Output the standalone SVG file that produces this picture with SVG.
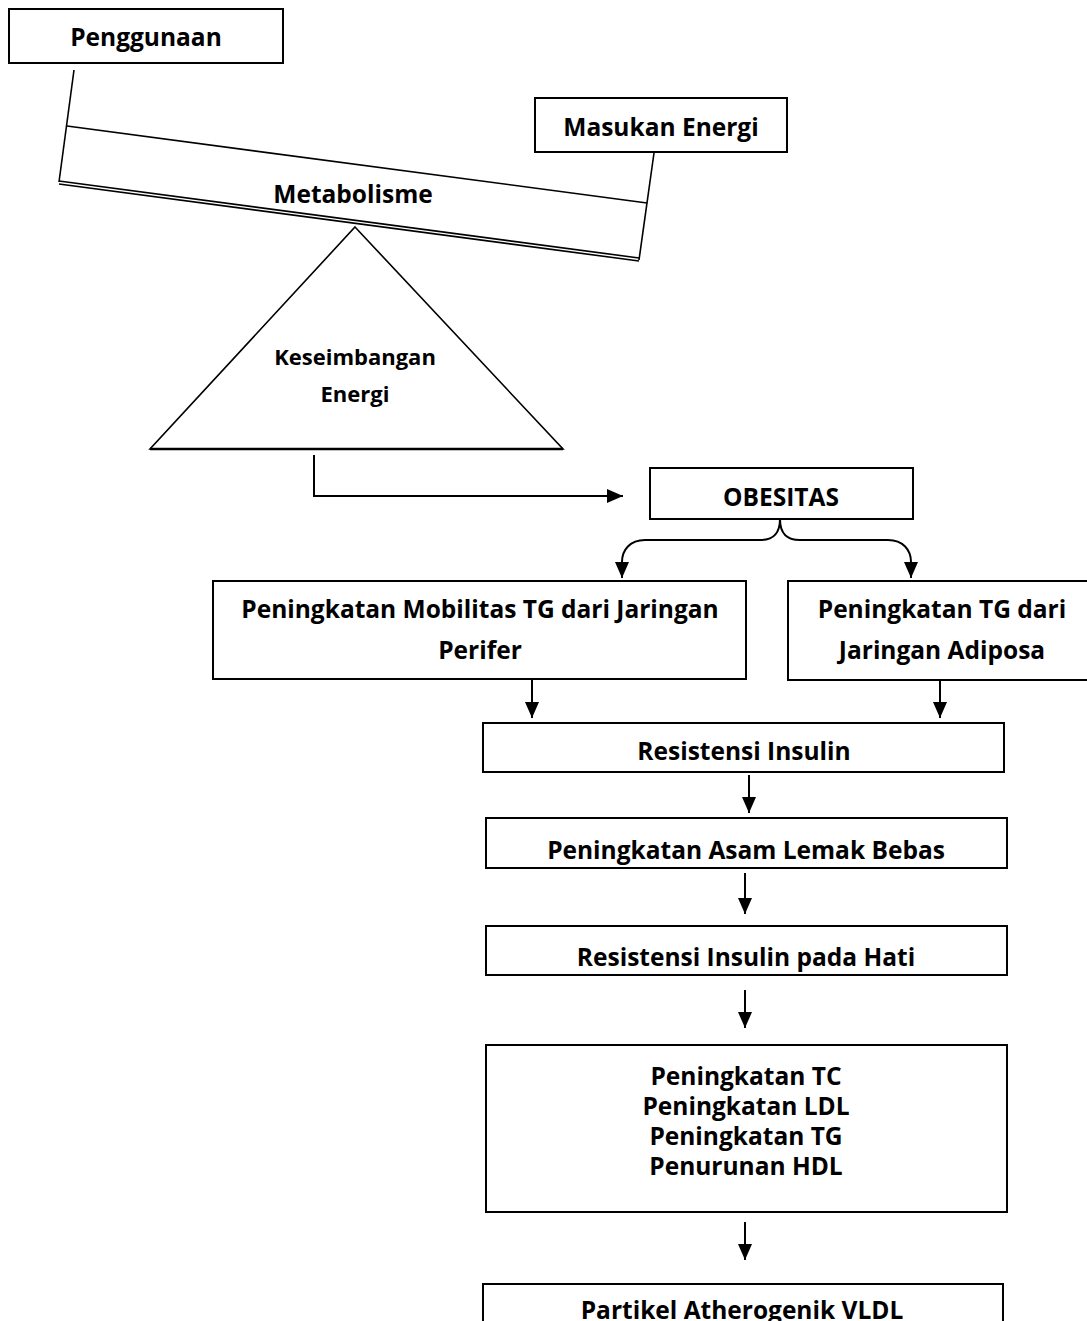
<svg xmlns="http://www.w3.org/2000/svg" width="1087" height="1321" viewBox="0 0 1087 1321">
<defs>
<style>
.box{fill:#fff;stroke:#000;stroke-width:2}
.ln{fill:none;stroke:#000;stroke-width:1.6}
.con{fill:none;stroke:#000;stroke-width:2}
.t{font-family:"Open Sans","Liberation Sans",sans-serif;font-weight:bold;font-size:24.5px;fill:#000;text-anchor:middle}
.ts{font-size:22px}
</style>
<marker id="ah" markerUnits="userSpaceOnUse" markerWidth="16" markerHeight="14" refX="16" refY="7" orient="auto">
<path d="M0,0 L16,7 L0,14 z" fill="#000"/>
</marker>
<clipPath id="c1"><rect x="486" y="818" width="521" height="50"/></clipPath>
<clipPath id="c2"><rect x="486" y="926" width="521" height="49"/></clipPath>
</defs>

<g id="lever">
<polygon points="67,126 647,203 639,260 59,182" fill="#fff" stroke="none"/>
<line class="ln" x1="74" y1="70" x2="59" y2="182"/>
<line class="ln" x1="654" y1="153" x2="639" y2="260"/>
<line class="ln" x1="67" y1="126" x2="647" y2="203"/>
<line class="ln" x1="59" y1="181" x2="639" y2="258"/>
<line class="ln" x1="59" y1="184" x2="639" y2="261"/>
<text class="t" x="353" y="203">Metabolisme</text>
</g>

<g id="penggunaan">
<rect class="box" x="9" y="9" width="274" height="54"/>
<text class="t" x="146" y="46">Penggunaan</text>
</g>

<g id="masukan">
<rect class="box" x="535" y="98" width="252" height="54"/>
<text class="t" x="661" y="136">Masukan Energi</text>
</g>

<g id="keseimbangan">
<polygon points="355,227 563,449 150,449" fill="#fff" stroke="#000" stroke-width="1.6"/>
<line x1="150" y1="449" x2="563" y2="449" stroke="#000" stroke-width="2.4"/>
<text class="t ts" x="355" y="365">Keseimbangan</text>
<text class="t ts" x="355" y="402">Energi</text>
</g>

<g id="obesitas">
<rect class="box" x="650" y="468" width="263" height="51"/>
<text class="t" x="781" y="506">OBESITAS</text>
</g>

<g id="mobilitas">
<rect class="box" x="213" y="581" width="533" height="98"/>
<text class="t" x="480" y="618">Peningkatan Mobilitas TG dari Jaringan</text>
<text class="t" x="480" y="659">Perifer</text>
</g>

<g id="adiposa">
<rect class="box" x="788" y="581" width="310" height="99"/>
<text class="t" x="942" y="618">Peningkatan TG dari</text>
<text class="t" x="942" y="659">Jaringan Adiposa</text>
</g>

<g id="resistensi">
<rect class="box" x="483" y="723" width="521" height="49"/>
<text class="t" x="744" y="760">Resistensi Insulin</text>
</g>

<g id="asam">
<rect class="box" x="486" y="818" width="521" height="50"/>
<text class="t" x="746" y="859" clip-path="url(#c1)">Peningkatan Asam Lemak Bebas</text>
</g>

<g id="hati">
<rect class="box" x="486" y="926" width="521" height="49"/>
<text class="t" x="746" y="966" clip-path="url(#c2)">Resistensi Insulin pada Hati</text>
</g>

<g id="lipid">
<rect class="box" x="486" y="1045" width="521" height="167"/>
<text class="t" x="746" y="1085">Peningkatan TC</text>
<text class="t" x="746" y="1115">Peningkatan LDL</text>
<text class="t" x="746" y="1145">Peningkatan TG</text>
<text class="t" x="746" y="1175">Penurunan HDL</text>
</g>

<g id="vldl">
<rect class="box" x="483" y="1284" width="520" height="50"/>
<text class="t" x="742" y="1319">Partikel Atherogenik VLDL</text>
</g>

<g id="connectors">
<polyline class="con" points="314,455 314,496 623,496" marker-end="url(#ah)"/>
<path class="con" d="M780,519 C780,535 772,540 760,540 L645,540 C630,540 622,550 622,562 L622,578" marker-end="url(#ah)"/>
<path class="con" d="M780,519 C780,535 788,540 800,540 L888,540 C903,540 911,550 911,562 L911,578" marker-end="url(#ah)"/>
<line class="con" x1="532" y1="680" x2="532" y2="718" marker-end="url(#ah)"/>
<line class="con" x1="940" y1="681" x2="940" y2="718" marker-end="url(#ah)"/>
<line class="con" x1="749" y1="775" x2="749" y2="813" marker-end="url(#ah)"/>
<line class="con" x1="745" y1="873" x2="745" y2="914" marker-end="url(#ah)"/>
<line class="con" x1="745" y1="990" x2="745" y2="1028" marker-end="url(#ah)"/>
<line class="con" x1="745" y1="1222" x2="745" y2="1260" marker-end="url(#ah)"/>
</g>
</svg>
